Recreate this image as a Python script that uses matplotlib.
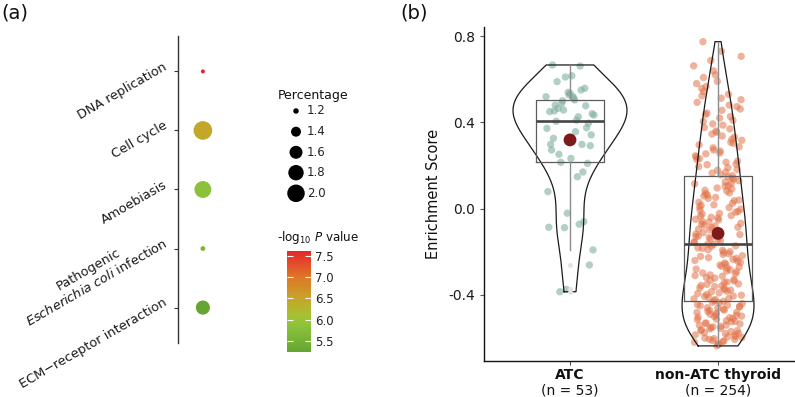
import matplotlib
matplotlib.use("Agg")
import matplotlib.pyplot as plt
import numpy as np
from matplotlib.colors import LinearSegmentedColormap, Normalize
from matplotlib.cm import ScalarMappable
from matplotlib.transforms import blended_transform_factory

plt.rcParams['font.family'] = ['DejaVu Sans']
plt.rcParams['axes.unicode_minus'] = False
plt.rcParams['mathtext.fontset'] = 'custom'
plt.rcParams['mathtext.rm'] = 'DejaVu Sans'
plt.rcParams['mathtext.it'] = 'DejaVu Sans:italic'

# ---- panel (a): KEGG enrichment dot plot
pathways = ["ECM\u2212receptor interaction",
            "Pathogenic\n$\\it{Escherichia\\ coli}$ infection",
            "Amoebiasis", "Cell cycle", "DNA replication"]
percentage = [1.69, 1.18, 1.94, 2.12, 1.16]
neg_log_p = [5.25, 5.60, 5.85, 6.45, 7.62]
size_breaks = [1.2, 1.4, 1.6, 1.8, 2.0]
color_breaks = [5.5, 6.0, 6.5, 7.0, 7.5]

# ---- panel (b): enrichment score per group
groups = ["ATC", "non-ATC thyroid"]
group_n = ["(n = 53)", "(n = 254)"]
atc_scores = [0.666, 0.661, 0.616, 0.610, 0.589, 0.558, 0.550, 0.539, 0.535, 0.527,
              0.519, 0.512, 0.504, 0.488, 0.477, 0.465, 0.457, 0.453, 0.434, 0.426,
              0.396, 0.375, 0.372, 0.357, 0.342, 0.326, 0.298, 0.298, 0.292, 0.272,
              0.252, 0.233, 0.215, 0.500, 0.520, 0.450, 0.410, 0.440, 0.480, 0.405,
              0.170, 0.210, 0.148, 0.079, -0.021, -0.060, -0.072, -0.086, -0.088,
              -0.191, -0.261, -0.374, -0.385]
non_atc_scores = [
    -0.636, -0.629, -0.627, -0.619, -0.617, -0.612, -0.611, -0.606, -0.605, -0.602, -0.600,
    -0.597, -0.594, -0.592, -0.586, -0.585, -0.579, -0.578, -0.575, -0.569, -0.566, -0.565,
    -0.561, -0.557, -0.555, -0.551,
    -0.548, -0.545, -0.540, -0.539, -0.534, -0.531, -0.530, -0.524, -0.522, -0.519, -0.514,
    -0.512, -0.509, -0.505, -0.503, -0.500,
    -0.498, -0.494, -0.492, -0.489, -0.485, -0.481, -0.480, -0.476, -0.471, -0.470, -0.466,
    -0.461, -0.459, -0.455, -0.453, -0.450,
    -0.447, -0.445, -0.440, -0.436, -0.434, -0.429, -0.427, -0.421, -0.418, -0.416, -0.411,
    -0.407, -0.405, -0.401,
    -0.398, -0.393, -0.390, -0.385, -0.383, -0.377, -0.375, -0.370, -0.367, -0.361, -0.358,
    -0.356, -0.351,
    -0.349, -0.343, -0.340, -0.335, -0.332, -0.328, -0.322, -0.319, -0.313, -0.310, -0.307, -0.301,
    -0.298, -0.292, -0.289, -0.283, -0.280, -0.275, -0.270, -0.267, -0.261, -0.258, -0.252,
    -0.249, -0.243, -0.240, -0.235, -0.230, -0.227, -0.221, -0.218, -0.212, -0.209, -0.202,
    -0.199, -0.193, -0.190, -0.184, -0.182, -0.175, -0.172, -0.166, -0.164, -0.157, -0.154,
    -0.149, -0.142, -0.140, -0.133, -0.130, -0.127, -0.120, -0.118, -0.111, -0.109, -0.102,
    -0.097, -0.095, -0.088, -0.086, -0.080, -0.077, -0.071, -0.068, -0.062, -0.059, -0.052,
    -0.049, -0.043, -0.040, -0.034, -0.032, -0.025, -0.022, -0.016, -0.013, -0.007, -0.002,
    0.005, 0.008, 0.016, 0.018, 0.025, 0.030, 0.037, 0.040, 0.048,
    0.052, 0.059, 0.063, 0.070, 0.073, 0.082, 0.085, 0.092, 0.096,
    0.104, 0.107, 0.115, 0.118, 0.125, 0.130, 0.137, 0.140, 0.148,
    0.153, 0.157, 0.165, 0.170, 0.178, 0.182, 0.190, 0.195,
    0.204, 0.207, 0.215, 0.220, 0.228, 0.232, 0.240, 0.245,
    0.254, 0.258, 0.267, 0.272, 0.282, 0.287, 0.296,
    0.303, 0.308, 0.317, 0.322, 0.332, 0.337, 0.346,
    0.354, 0.360, 0.370, 0.376, 0.387, 0.393,
    0.404, 0.410, 0.420, 0.427, 0.437, 0.443,
    0.456, 0.462, 0.473, 0.480, 0.493,
    0.505, 0.512, 0.523, 0.530, 0.543,
    0.557, 0.566, 0.580, 0.590,
    0.608, 0.620, 0.639,
    0.662, 0.687,
    0.706, 0.730,
    0.774]

W, H = 795, 397
fig = plt.figure(figsize=(W / 100, H / 100), dpi=100)

# overlay in pixel coords for the hand-placed legends and panel tags
ov = fig.add_axes([0, 0, 1, 1])
ov.set_xlim(0, W)
ov.set_ylim(H, 0)
ov.axis('off')


def pct_to_size(v):
    d_px = np.sqrt(30 + 345 * (np.asarray(v) - 1.2))
    return (d_px * 0.72) ** 2


cmap = LinearSegmentedColormap.from_list(
    "pval", [(0.0, '#64a631'), (0.25, '#8cc23b'), (0.36, '#a6c233'),
             (0.53, '#c8a32a'), (0.74, '#df7626'), (1.0, '#e5262b')])
norm = Normalize(min(neg_log_p), max(neg_log_p))

# ---------------- panel (a)
ax_a = fig.add_axes([177.7 / W, 1 - 343 / H, 60 / W, 307 / H])
ypos = np.arange(1, len(pathways) + 1)
ax_a.scatter(np.ones(len(ypos)), ypos, s=pct_to_size(percentage),
             c=cmap(norm(neg_log_p)), edgecolors='none', clip_on=False, zorder=3)
ax_a.set_xlim(0.496, 1.696)
ax_a.set_ylim(0.4, 5.6)
ax_a.set_xticks([])
ax_a.set_yticks(ypos)
ax_a.set_yticklabels(pathways, rotation=30, ha='right', va='bottom',
                     rotation_mode='anchor', fontsize=9.3, color='#1a1a1a')
for lab in ax_a.get_yticklabels():
    lab.set_multialignment('center')
for s in ['top', 'right', 'bottom']:
    ax_a.spines[s].set_visible(False)
ax_a.spines['left'].set_color('#333333')
ax_a.spines['left'].set_linewidth(1.0)
ax_a.tick_params(axis='y', length=3, width=0.8, color='#333333', pad=3)
ax_a.patch.set_visible(False)

# size legend
ov.text(277.7, 95, "Percentage", ha='left', va='center', fontsize=9, color='#111111')
leg_y = [111, 131.7, 152.3, 172.7, 193.3]
ov.scatter([296] * len(size_breaks), leg_y, s=pct_to_size(size_breaks), color='black',
           edgecolors='none')
for yy, b in zip(leg_y, size_breaks):
    ov.text(306.7, yy, f"{b:.1f}", ha='left', va='center', fontsize=8.5, color='#222222')

# colour bar
ov.text(277, 238, "-log$_{10}$ $\\it{P}$ value", ha='left', va='center', fontsize=8.6,
        color='#111111')
cax = fig.add_axes([287.3 / W, 1 - 351.7 / H, 23.4 / W, 101 / H])
cb = fig.colorbar(ScalarMappable(norm=norm, cmap=cmap), cax=cax, ticks=color_breaks)
cb.outline.set_visible(False)
cb.ax.set_yticklabels([f"{c:.1f}" for c in color_breaks])
cax.tick_params(axis='y', direction='in', length=4, width=0.8, color='white',
                left=True, right=True, labelsize=8.5, labelcolor='#222222', pad=3)

# ---------------- panel (b)
ax_b = fig.add_axes([484 / W, 1 - 361 / H, 311 / W, 334 / H])
ax_b.set_xlim(0.419, 2.52)
ax_b.set_ylim(-0.706, 0.842)

data = [np.array(atc_scores), np.array(non_atc_scores)]
pt_colors = ['#7fb09e', '#e2734a']
pt_alpha = [0.6, 0.55]
half_widths = [0.385, 0.243]
bw_adjust = [1.3, 1.0]


def spread_jitter(n, width, seed):
    # evenly spaced offsets handed out in a scrambled (hash) order
    k = np.arange(n) + seed
    h = (np.sin(k * 12.9898 + 78.233) * 43758.5453) % 1.0
    ranks = np.argsort(np.argsort(h))
    return ((ranks + 0.5) / n - 0.5) * 2 * width


for i, (d, col) in enumerate(zip(data, pt_colors)):
    pos = i + 1
    ax_b.scatter(pos + spread_jitter(len(d), 0.165, 7 * i), d, s=28, color=col,
                 alpha=pt_alpha[i], edgecolors='none', zorder=2)

    # violin outline (gaussian kde, nrd0 bandwidth, trimmed to data range)
    q1, q3 = np.percentile(d, [25, 75])
    bw = bw_adjust[i] * 0.9 * min(d.std(ddof=1), (q3 - q1) / 1.34) * len(d) ** -0.2
    grid = np.linspace(d.min(), d.max(), 400)
    dens = np.exp(-0.5 * ((grid[:, None] - d[None, :]) / bw) ** 2).sum(axis=1)
    w = dens / dens.max() * half_widths[i]
    vx = np.concatenate([pos - w, (pos + w)[::-1], [pos - w[0]]])
    vy = np.concatenate([grid, grid[::-1], [grid[0]]])
    ax_b.plot(vx, vy, color='#1a1a1a', lw=0.9, zorder=3)

ax_b.boxplot(data, positions=[1, 2], widths=0.46, whis=1.5, showcaps=False,
             manage_ticks=False,
             boxprops=dict(color='#5c5c5c', lw=0.9),
             whiskerprops=dict(color='#8c8c8c', lw=1.0),
             medianprops=dict(color='#454545', lw=1.9),
             flierprops=dict(marker='o', markersize=3.5, markerfacecolor='#e8dfdf',
                             markeredgecolor='none'),
             zorder=4)

ax_b.scatter([1, 2], [d.mean() for d in data], s=85, color='#7f1a1a',
             edgecolors='none', zorder=5)

for s in ['top', 'right']:
    ax_b.spines[s].set_visible(False)
for s in ['left', 'bottom']:
    ax_b.spines[s].set_color('#111111')
    ax_b.spines[s].set_linewidth(1.0)

yt = [-0.4, 0.0, 0.4, 0.8]
ax_b.set_yticks(yt)
ax_b.set_yticklabels([f"{v:.1f}" for v in yt], fontsize=10, color='#1a1a1a')
ax_b.set_xticks([1, 2])
ax_b.set_xticklabels(["", ""])
ax_b.tick_params(length=3, width=0.8, color='#555555')
ax_b.set_ylabel("Enrichment Score", fontsize=10.5, color='#111111')
ax_b.yaxis.set_label_coords((441 - 484) / 311, 0.5)

tr = blended_transform_factory(ax_b.transData, ax_b.transAxes)
for i, (g, n) in enumerate(zip(groups, group_n)):
    ax_b.text(i + 1, -0.02, g, transform=tr, ha='center', va='top', fontsize=10,
              fontweight='bold', color='#111111')
    ax_b.text(i + 1, -0.066, n, transform=tr, ha='center', va='top', fontsize=10,
              color='#111111')

# panel tags
ov.text(1, 13, "(a)", ha='left', va='center', fontsize=14, color='#111111')
ov.text(400, 13, "(b)", ha='left', va='center', fontsize=14, color='#111111')

fig.savefig("out.png", dpi=100)
